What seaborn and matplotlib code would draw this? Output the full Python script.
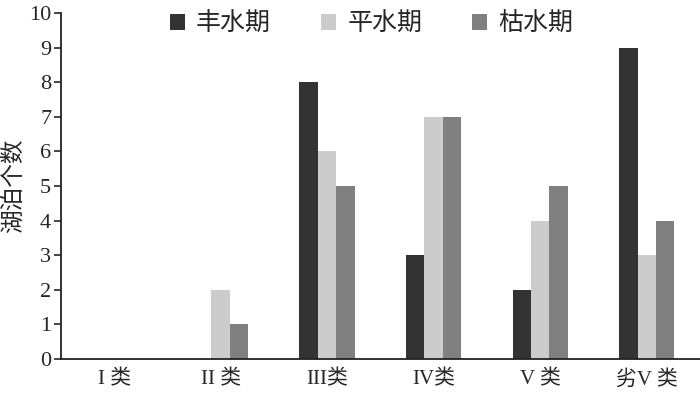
import matplotlib
matplotlib.use("Agg")
import matplotlib.pyplot as plt
import seaborn as sns
import pandas as pd

categories = ["I 类", "II 类", "III类", "IV类", "V 类", "劣V 类"]
series_names = ["丰水期", "平水期", "枯水期"]
wet = [0, 0, 8, 3, 2, 9]
normal = [0, 2, 6, 7, 4, 3]
dry = [0, 1, 5, 7, 5, 4]
colors = ["#333333", "#cccccc", "#808080"]
yticks = list(range(0, 11))

rows = []
for name, vals in zip(series_names, [wet, normal, dry]):
    for c, v in zip(categories, vals):
        rows.append({"类别": c, "时期": name, "个数": v})
df = pd.DataFrame(rows)

sns.set_style("ticks")
plt.rcParams["font.family"] = ["Liberation Serif", "Noto Sans CJK SC", "DejaVu Sans"]

fig = plt.figure(figsize=(7.0, 3.93), dpi=100)
ax = fig.add_axes([0.087, 0.0865, 0.913, 0.8805])
sns.barplot(data=df, x="类别", y="个数", hue="时期", order=categories,
            hue_order=series_names, palette=colors, width=0.52,
            saturation=1, ax=ax, legend=True, linewidth=0, edgecolor="none")
ax.set_xlim(-0.5, 5.5)
ax.set_ylim(0, 10)
ax.set_yticks(yticks)
ax.set_xlabel("")
ax.set_ylabel("湖泊个数", fontsize=17, labelpad=3)
ax.tick_params(axis="y", labelsize=16, direction="out", length=5, width=1.2, pad=2)
ax.tick_params(axis="x", labelsize=15, length=0, pad=8)
for s in ["top", "right"]:
    ax.spines[s].set_visible(False)
for s in ["left", "bottom"]:
    ax.spines[s].set_linewidth(1.3)
    ax.spines[s].set_color("#222222")

h, l = ax.get_legend_handles_labels()
ax.get_legend().remove()
fig.legend(h, l, loc="upper center", bbox_to_anchor=(0.531, 1.025), ncol=3,
           frameon=False, fontsize=18, handlelength=0.6, handleheight=0.6,
           handletextpad=0.45, columnspacing=2.0)

fig.savefig("out.png", dpi=100)
